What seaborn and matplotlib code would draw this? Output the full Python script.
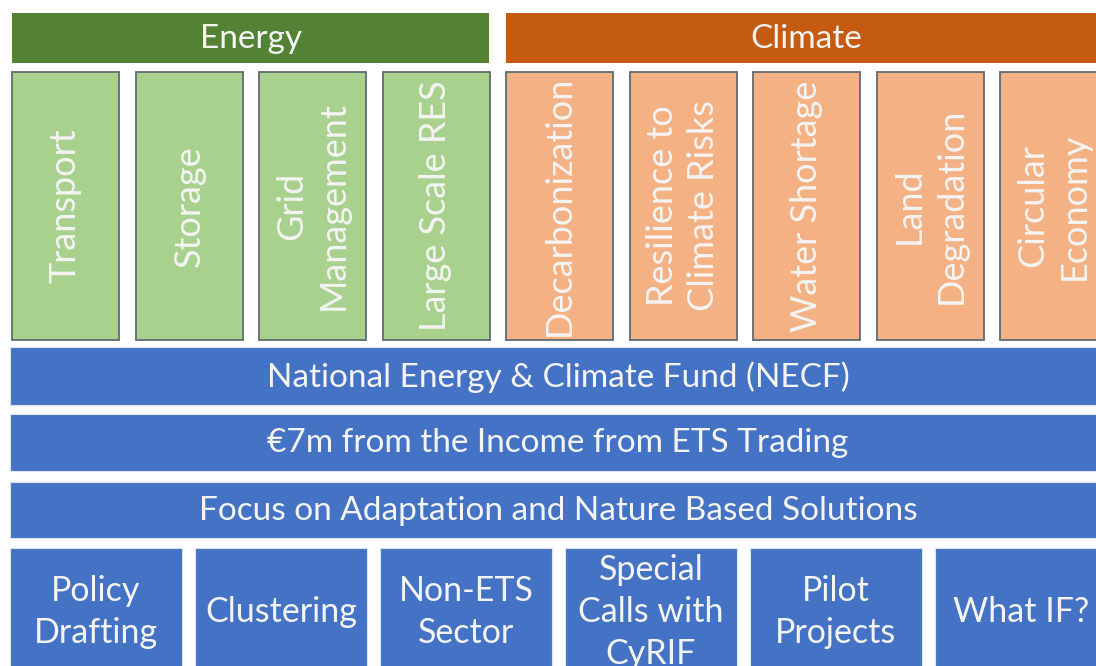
import numpy as np
import matplotlib
matplotlib.use("Agg")
import matplotlib.pyplot as plt
from matplotlib.patches import Rectangle
import seaborn as sns

# ---- data ----
groups = ["Energy", "Climate"]
energy_items = ["Transport", "Storage", "Grid\nManagement", "Large Scale RES"]
climate_items = ["Decarbonization", "Resilience to\nClimate Risks", "Water Shortage",
                 "Land\nDegradation", "Circular\nEconomy"]
bands = ["National Energy & Climate Fund (NECF)",
         "€7m from the Income from ETS Trading",
         "Focus on Adaptation and Nature Based Solutions"]
actions = ["Policy\nDrafting", "Clustering", "Non-ETS\nSector",
           "Special\nCalls with\nCyRIF", "Pilot\nProjects", "What IF?"]

# ---- style ----
sns.set_theme(style="white")
plt.rcParams["font.family"] = ["Lato", "DejaVu Sans"]

C_DGREEN = "#548235"
C_LGREEN = "#A9D18E"
C_DORANGE = "#C55A11"
C_LORANGE = "#F4B183"
C_BLUE = "#4472C4"
TXT = "#F4F4F4"
EDGE = "#5F6B70"

W, H = 1096, 666
fig = plt.figure(figsize=(W / 100, H / 100), dpi=100)
ax = fig.add_axes([0, 0, 1, 1])
ax.set_xlim(0, W)
ax.set_ylim(H, 0)
ax.axis("off")


def box(x, y, w, h, fc, ec="none", lw=0):
    ax.add_patch(Rectangle((x, y), w, h, facecolor=fc, edgecolor=ec, linewidth=lw))


# layout
x0 = 12
pitch = 123.5
sub_w = 107
n_e = len(energy_items)
n_c = len(climate_items)

# headers
head_y, head_h = 13, 50
box(x0, head_y, pitch * (n_e - 1) + sub_w - 1, head_h, C_DGREEN)
xc0 = x0 + pitch * n_e
box(xc0, head_y, W - xc0 + 20, head_h, C_DORANGE)
ax.text(x0 + (pitch * (n_e - 1) + sub_w) / 2, head_y + head_h / 2 + 1, groups[0],
        color=TXT, fontsize=24, ha="center", va="center")
ax.text(xc0 + (pitch * (n_c - 1) + sub_w) / 2, head_y + head_h / 2 + 1, groups[1],
        color=TXT, fontsize=24, ha="center", va="center")

# sub boxes
sub_y, sub_h = 72, 268
items = energy_items + climate_items
colors = [C_LGREEN] * n_e + [C_LORANGE] * n_c
for i, (lab, fc) in enumerate(zip(items, colors)):
    x = x0 + i * pitch
    box(x, sub_y, sub_w, sub_h, fc, EDGE, 1.3)
    ax.text(x + sub_w / 2, sub_y + sub_h / 2, lab, rotation=90, color=TXT,
            fontsize=26, ha="center", va="center", linespacing=1.32,
            multialignment="center")

# bands
band_y = [347, 414, 482]
band_h = [58, 57, 56]
for lab, y, h in zip(bands, band_y, band_h):
    box(10, y, W, h, C_BLUE, "#DCE3F0", 0.8)
    ax.text(558, y + h / 2 + 1, lab, color=TXT, fontsize=24, ha="center", va="center")

# actions
act_y, act_h = 548, 128
act_pitch = 185
act_w = 172
for i, lab in enumerate(actions):
    x = 10 + i * act_pitch
    box(x, act_y, act_w, act_h, C_BLUE, "#DCE3F0", 0.8)
    ax.text(x + act_w / 2, act_y + act_h / 2, lab, color=TXT, fontsize=24.5,
            ha="center", va="center", linespacing=1.4, multialignment="center")

fig.savefig("out.png", dpi=100, facecolor="white")
